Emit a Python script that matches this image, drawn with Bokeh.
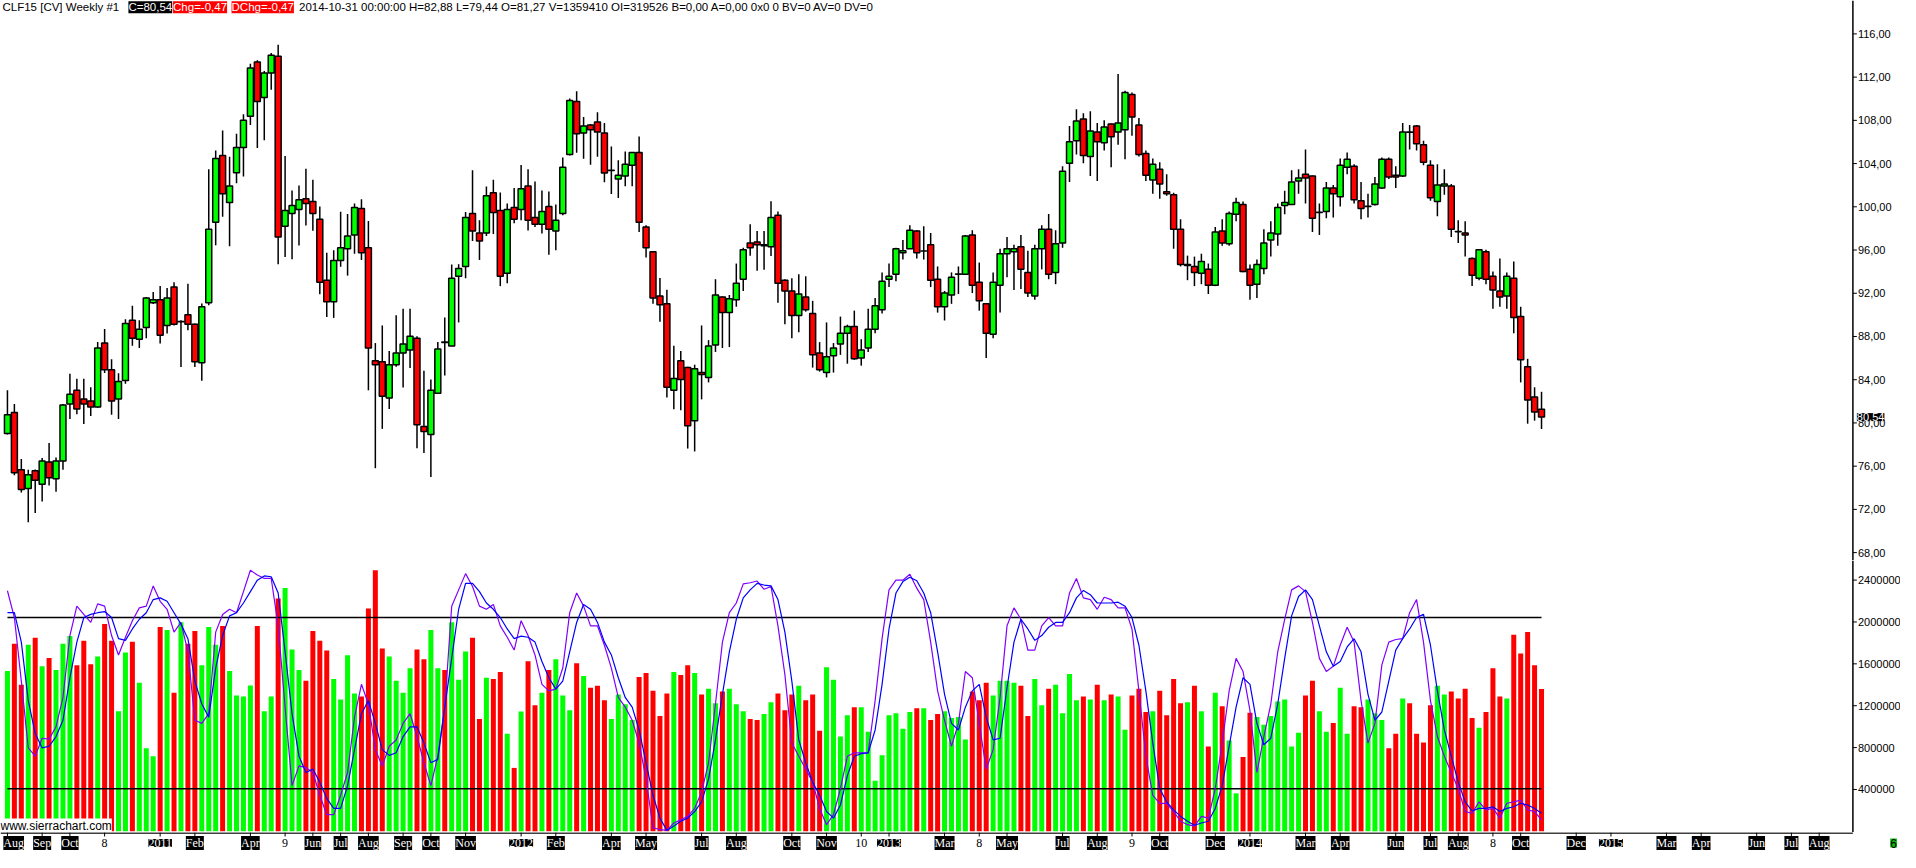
from datetime import date
from bokeh.plotting import figure
from bokeh.layouts import column
from bokeh.models import Range1d, Label, LabelSet, ColumnDataSource, Span
from bokeh.core.properties import value
from bokeh.embed import file_html
from bokeh.resources import INLINE

# ---------------- data (weekly CLF15, one bar per week starting Mon 2010-08-02) ----------------
opens = [79.02, 80.96, 75.66, 73.93, 75.57, 74.33, 76.39, 74.84, 76.48, 81.75,
         83.02, 82.21, 82.02, 81.48, 87.39, 84.93, 82.21, 83.93, 89.51, 87.75,
         88.84, 91.12, 91.39, 89.02, 92.57, 89.36, 90.02, 89.12, 85.57, 91.12,
         98.57, 104.75, 100.39, 103.15, 105.48, 108.39, 113.39, 110.12, 112.39, 113.93,
         98.21, 99.39, 99.75, 100.75, 100.48, 98.84, 93.21, 91.21, 95.02, 96.12,
         97.39, 99.84, 96.21, 85.75, 85.66, 82.30, 85.39, 86.48, 86.75, 87.84,
         79.66, 78.93, 82.75, 87.48, 87.12, 93.57, 94.48, 99.39, 97.57, 97.57,
         101.30, 99.66, 93.84, 99.93, 99.75, 101.93, 99.02, 98.39, 100.02, 97.75,
         99.39, 104.84, 109.75, 106.84, 107.57, 107.84, 106.84, 103.36, 102.57, 102.84,
         103.84, 105.02, 98.12, 95.84, 91.75, 91.02, 83.02, 85.75, 85.12, 80.21,
         84.66, 84.21, 87.21, 91.66, 90.21, 91.39, 93.30, 96.66, 96.75, 96.39,
         96.30, 99.21, 93.21, 92.21, 89.93, 91.66, 90.12, 86.48, 84.66, 86.21,
         87.30, 88.30, 88.93, 86.02, 86.93, 88.66, 90.48, 93.30, 93.75, 95.75,
         96.12, 97.75, 95.90, 96.48, 93.30, 90.75, 91.84, 93.75, 93.75, 97.39,
         93.02, 91.02, 88.21, 92.75, 95.66, 95.84, 96.30, 93.93, 91.75, 96.12,
         97.93, 93.93, 96.66, 104.02, 106.12, 108.12, 104.66, 106.93, 105.93, 107.66,
         106.93, 107.12, 110.39, 107.57, 104.93, 102.48, 103.48, 101.39, 101.12, 97.93,
         94.57, 94.48, 93.84, 94.21, 92.75, 97.75, 96.57, 99.30, 100.21, 94.21,
         92.84, 94.30, 96.93, 97.48, 100.12, 100.21, 102.39, 103.02, 102.84, 99.48,
         99.57, 101.75, 100.93, 103.66, 103.75, 100.57, 100.02, 100.21, 101.75, 104.39,
         102.93, 102.84, 106.93, 107.48, 105.75, 103.84, 100.48, 101.93, 101.93, 97.72,
         97.57, 95.21, 93.39, 95.84, 93.57, 92.21, 91.75, 93.39, 89.84, 85.21,
         82.39, 81.27]
highs = [83.02, 81.75, 76.66, 75.66, 75.70, 76.75, 78.15, 76.81, 81.75, 84.54,
         84.08, 84.08, 83.30, 87.48, 88.69, 85.90, 84.60, 89.60, 90.84, 89.51,
         91.66, 92.12, 92.66, 92.48, 93.02, 89.50, 92.87, 89.20, 91.05, 103.48,
         105.21, 107.05, 104.63, 106.75, 108.57, 113.24, 113.57, 112.57, 114.24, 114.99,
         104.69, 101.51, 101.96, 103.51, 102.51, 100.02, 95.75, 95.99, 99.54, 99.33,
         100.30, 100.69, 98.69, 87.39, 89.02, 86.66, 89.96, 90.57, 90.57, 88.02,
         84.84, 84.02, 87.48, 89.75, 94.66, 94.69, 99.51, 103.39, 98.75, 101.87,
         102.51, 101.33, 100.30, 101.75, 103.87, 103.48, 102.33, 101.51, 101.42, 100.21,
         104.57, 110.02, 110.69, 108.30, 107.66, 108.75, 107.75, 105.57, 104.30, 105.12,
         105.02, 106.51, 98.30, 95.90, 93.42, 92.33, 87.15, 86.66, 85.20, 85.39,
         89.02, 87.66, 93.30, 91.70, 91.84, 94.75, 96.21, 98.39, 97.75, 97.75,
         100.51, 99.57, 93.30, 93.39, 93.75, 93.57, 91.30, 87.48, 89.30, 87.39,
         89.84, 89.09, 90.39, 87.75, 90.57, 91.57, 93.93, 94.75, 96.21, 96.93,
         98.30, 97.84, 98.21, 97.57, 94.48, 92.21, 93.93, 94.48, 97.39, 97.84,
         94.84, 91.10, 93.93, 96.12, 97.21, 96.48, 97.39, 95.93, 96.48, 98.30,
         99.33, 97.84, 103.75, 107.48, 109.02, 108.66, 108.84, 107.75, 108.02, 107.70,
         112.30, 110.75, 110.57, 108.21, 105.21, 104.48, 104.12, 103.02, 101.30, 98.84,
         95.48, 95.39, 95.66, 94.75, 98.12, 98.84, 99.57, 100.84, 100.48, 94.66,
         95.12, 97.93, 98.66, 100.30, 101.48, 103.39, 103.48, 105.30, 102.90, 100.30,
         102.30, 102.02, 104.48, 105.02, 103.93, 102.30, 101.21, 102.75, 104.57, 104.57,
         103.75, 107.75, 107.57, 107.57, 106.12, 104.30, 103.93, 103.48, 102.12, 98.75,
         98.66, 95.30, 96.02, 96.02, 94.02, 95.21, 93.93, 94.93, 90.75, 85.93,
         83.30, 82.88]
lows = [78.93, 75.15, 73.57, 70.81, 71.66, 72.72, 74.21, 73.63, 75.66, 80.36,
        80.81, 79.90, 80.63, 81.40, 84.63, 80.75, 80.36, 83.63, 87.15, 86.93,
        87.84, 91.00, 87.36, 88.27, 89.02, 85.18, 88.57, 85.18, 83.90, 90.90,
        96.45, 99.08, 96.36, 102.18, 102.81, 107.57, 105.45, 106.15, 110.84, 94.69,
        95.36, 95.15, 96.42, 98.27, 97.78, 91.90, 89.81, 89.72, 94.45, 93.63,
        95.66, 95.08, 83.02, 75.81, 79.45, 81.30, 85.21, 83.27, 85.08, 77.66,
        77.21, 74.99, 82.70, 84.39, 87.10, 89.30, 93.39, 96.84, 95.08, 97.30,
        97.48, 92.66, 92.93, 98.48, 98.75, 97.81, 98.12, 97.54, 95.57, 95.99,
        99.21, 104.75, 104.99, 104.45, 103.90, 104.63, 102.27, 101.18, 100.81, 101.90,
        101.90, 97.66, 95.30, 91.02, 89.36, 82.36, 81.27, 81.18, 77.63, 77.36,
        82.18, 83.75, 86.57, 86.93, 87.02, 90.75, 92.21, 95.48, 94.09, 94.18,
        95.45, 91.12, 89.12, 87.84, 88.39, 90.30, 85.12, 84.75, 84.21, 84.66,
        86.30, 85.48, 85.84, 85.30, 86.57, 88.30, 90.12, 92.57, 93.12, 95.12,
        96.10, 95.21, 95.12, 92.57, 90.21, 89.48, 91.02, 91.93, 93.70, 92.02,
        90.39, 86.02, 87.84, 90.21, 93.48, 92.30, 92.39, 91.66, 91.39, 94.21,
        93.30, 92.84, 96.21, 102.30, 104.84, 104.02, 102.84, 102.39, 105.21, 103.66,
        105.75, 104.39, 106.57, 104.66, 102.39, 101.21, 100.75, 101.02, 96.12, 94.48,
        93.21, 92.66, 92.84, 91.93, 92.66, 96.39, 96.39, 98.66, 93.95, 91.39,
        91.57, 93.75, 95.39, 96.39, 99.30, 100.20, 101.21, 100.30, 97.66, 97.39,
        98.93, 99.02, 100.02, 103.02, 100.30, 98.84, 99.02, 100.12, 101.66, 102.57,
        101.75, 102.75, 105.30, 105.21, 103.84, 100.57, 99.12, 101.12, 97.21, 96.66,
        95.39, 92.66, 93.21, 92.84, 90.57, 90.75, 90.57, 88.30, 83.75, 79.93,
        80.21, 79.44]
closes = [80.75, 75.39, 73.84, 75.21, 74.69, 76.48, 74.93, 76.48, 81.66, 82.66,
          81.30, 81.75, 81.48, 86.93, 84.93, 82.02, 83.84, 89.21, 87.84, 88.66,
          91.57, 91.39, 88.11, 91.57, 89.12, 89.39, 89.12, 85.66, 90.75, 97.93,
          104.48, 101.21, 101.93, 105.48, 108.02, 112.84, 109.75, 112.39, 114.02, 97.21,
          99.66, 100.12, 100.66, 100.30, 99.39, 93.02, 91.21, 95.02, 96.21, 97.30,
          99.93, 95.75, 86.93, 85.39, 82.48, 85.39, 86.48, 87.30, 88.02, 79.84,
          79.21, 83.02, 86.84, 87.45, 93.39, 94.30, 99.02, 97.75, 96.84, 101.02,
          99.48, 93.57, 99.75, 98.84, 101.66, 98.75, 98.39, 99.57, 97.93, 98.75,
          103.66, 109.84, 106.75, 107.48, 107.12, 106.93, 103.12, 103.38, 102.93, 103.93,
          105.02, 98.57, 96.21, 91.57, 90.93, 83.30, 84.12, 84.02, 79.75, 85.02,
          84.48, 87.12, 91.84, 90.21, 91.48, 92.93, 96.02, 96.21, 96.48, 96.48,
          99.02, 92.93, 92.21, 89.93, 91.93, 90.48, 86.30, 84.93, 86.12, 86.93,
          88.30, 88.93, 85.93, 86.75, 88.66, 90.84, 93.12, 93.57, 96.12, 95.93,
          97.84, 95.75, 95.92, 93.21, 90.75, 92.02, 93.48, 93.77, 97.30, 92.75,
          91.30, 88.30, 93.02, 95.66, 96.12, 96.12, 94.21, 92.02, 96.12, 97.93,
          93.75, 96.57, 103.30, 106.02, 107.93, 104.75, 107.02, 106.02, 107.39, 106.48,
          107.75, 110.57, 108.30, 104.84, 102.93, 103.93, 102.12, 101.21, 97.93, 94.66,
          94.66, 93.93, 94.93, 92.75, 97.66, 96.66, 99.39, 100.39, 94.02, 92.75,
          94.66, 96.66, 97.57, 99.93, 100.39, 102.30, 102.66, 102.66, 98.93, 99.50,
          101.75, 101.21, 103.84, 104.39, 100.66, 99.84, 100.04, 102.12, 104.39, 102.75,
          102.75, 106.93, 106.90, 105.84, 104.12, 100.84, 102.02, 102.12, 97.93, 97.70,
          97.39, 93.66, 96.02, 93.30, 92.30, 91.66, 93.57, 89.75, 85.84, 82.12,
          81.01, 80.54]
volumes = [1531000, 1793000, 1400000, 1783000, 1849000, 1578000, 1656000, 1540000, 1793000, 1867000,
           1587000, 1821000, 1596000, 1671000, 1980000, 1821000, 1148000, 1709000, 1811000, 1419000,
           793000, 718000, 1952000, 1924000, 1325000, 1998000, 1793000, 1914000, 1587000, 1952000,
           1783000, 1961000, 1531000, 1297000, 1288000, 1394000, 1961000, 1148000, 1288000, 2223000,
           2325000, 1737000, 1540000, 1438000, 1914000, 1821000, 1727000, 1456000, 1260000, 1681000,
           1316000, 1288000, 2129000, 2494000, 1746000, 1671000, 1438000, 1325000, 1559000, 1737000,
           1643000, 1924000, 1559000, 1540000, 1998000, 1447000, 1718000, 1849000, 1073000, 1466000,
           1456000, 1522000, 933000, 606000, 1145000, 1624000, 1204000, 1325000, 1540000, 1643000,
           1297000, 1157000, 1606000, 1484000, 1372000, 1391000, 1251000, 1073000, 1307000, 1213000,
           1064000, 1475000, 1512000, 1344000, 1101000, 1316000, 1522000, 1494000, 1587000, 1512000,
           1307000, 1363000, 1223000, 1335000, 1363000, 1213000, 1148000, 1073000, 1064000, 1120000,
           1232000, 1316000, 1157000, 1307000, 1391000, 1251000, 1307000, 961000, 1568000, 1447000,
           905000, 1110000, 1185000, 1185000, 952000, 484000, 727000, 1110000, 1129000, 980000,
           1139000, 1176000, 1176000, 1064000, 1120000, 1148000, 1082000, 1092000, 877000, 1335000,
           1251000, 1419000, 1297000, 1438000, 1438000, 1419000, 1391000, 1101000, 1456000, 1204000,
           1363000, 1400000, 1129000, 1503000, 1251000, 1288000, 1260000, 1400000, 1251000, 1307000,
           1288000, 970000, 1297000, 1363000, 1139000, 1148000, 1344000, 1110000, 1456000, 1223000,
           1232000, 1391000, 1148000, 811000, 1325000, 1195000, 868000, 363000, 709000, 1132000,
           1092000, 1017000, 1101000, 1241000, 1260000, 811000, 942000, 1297000, 1438000, 1148000,
           952000, 1036000, 1372000, 933000, 1195000, 1185000, 1260000, 1129000, 1064000, 793000,
           933000, 1269000, 1223000, 933000, 849000, 1204000, 1391000, 1307000, 1335000, 1269000,
           1363000, 1082000, 989000, 1139000, 1559000, 1288000, 1269000, 1877000, 1699000, 1905000,
           1587000, 1359410]
stoch_k = [89.4, 80.0, 57.7, 34.3, 31.4, 37.7, 37.4, 41.7, 52.0, 73.7,
           84.0, 81.1, 78.3, 84.8, 84.0, 73.7, 66.9, 73.1, 78.9, 83.4,
           84.0, 91.1, 85.7, 82.9, 74.9, 78.3, 68.0, 44.0, 42.9, 46.3,
           74.9, 81.1, 82.9, 81.7, 89.1, 96.6, 94.9, 93.7, 93.7, 77.1,
           48.6, 21.1, 28.0, 27.4, 25.7, 17.7, 10.9, 10.9, 17.7, 25.7,
           45.1, 56.6, 49.7, 33.7, 28.0, 34.9, 37.1, 42.9, 46.3, 38.3,
           29.1, 21.1, 31.4, 48.6, 84.0, 89.7, 95.4, 90.9, 84.0, 82.9,
           84.6, 77.1, 73.1, 68.6, 78.9, 73.7, 66.9, 56.6, 54.3, 54.9,
           62.3, 81.7, 88.6, 84.0, 77.1, 77.1, 70.3, 62.3, 52.0, 48.6,
           44.0, 36.0, 23.4, 6.3, 5.7, 5.4, 8.0, 9.1, 10.3, 13.1,
           18.9, 29.1, 49.7, 71.4, 81.7, 85.1, 91.8, 92.2, 92.8, 89.9,
           90.9, 77.1, 60.0, 36.0, 31.4, 26.9, 22.3, 13.1, 7.4, 10.9,
           20.0, 31.4, 32.6, 32.6, 32.6, 50.9, 72.6, 89.7, 93.1, 93.1,
           95.2, 90.3, 86.3, 71.4, 54.3, 44.0, 34.9, 42.9, 61.1, 58.9,
           42.9, 26.9, 33.7, 52.0, 77.1, 83.4, 79.4, 68.6, 68.6, 77.1,
           80.0, 77.1, 77.1, 88.6, 93.7, 86.9, 86.3, 82.9, 87.1, 86.3,
           83.4, 83.4, 76.0, 54.3, 31.4, 17.7, 14.9, 14.9, 12.0, 8.6,
           7.4, 6.9, 10.3, 9.7, 20.0, 36.0, 54.3, 65.7, 61.1, 47.4,
           25.7, 38.3, 49.7, 68.0, 79.4, 89.7, 91.1, 89.1, 78.3, 65.7,
           61.1, 62.9, 70.3, 76.6, 71.4, 50.9, 36.0, 42.9, 63.4, 71.4,
           72.3, 72.6, 81.7, 86.3, 71.4, 50.9, 38.3, 31.4, 25.7, 20.0,
           12.0, 11.4, 15.4, 12.6, 13.1, 9.7, 14.9, 15.4, 16.0, 12.6,
           12.0, 9.1]
stoch_d = [81.7, 81.7, 71.4, 50.9, 39.4, 34.3, 34.9, 38.3, 44.0, 58.9,
           71.4, 80.0, 81.1, 81.7, 82.1, 80.0, 72.6, 72.0, 76.0, 79.4,
           81.7, 86.3, 86.9, 85.7, 81.7, 77.7, 72.6, 57.7, 49.7, 45.1,
           62.3, 73.7, 80.6, 81.7, 85.1, 89.1, 93.1, 94.6, 94.3, 88.6,
           68.0, 46.3, 31.4, 25.7, 26.9, 22.3, 16.6, 13.1, 13.1, 21.1,
           33.7, 46.3, 50.9, 42.9, 33.7, 31.7, 32.6, 38.3, 41.7, 41.7,
           36.0, 29.1, 30.3, 48.6, 65.7, 82.9, 92.0, 92.0, 89.1, 85.1,
           82.9, 80.0, 76.0, 72.6, 73.5, 73.1, 71.4, 64.6, 58.9, 54.9,
           57.7, 68.0, 78.3, 84.6, 82.9, 78.3, 71.4, 66.9, 58.9, 52.0,
           48.6, 40.6, 29.1, 17.7, 9.7, 5.4, 6.9, 8.6, 9.7, 12.0,
           15.4, 23.4, 37.1, 53.1, 68.0, 79.4, 86.9, 89.7, 92.0, 91.4,
           91.1, 86.3, 74.9, 57.7, 37.1, 29.1, 22.3, 17.7, 12.0, 9.7,
           14.3, 24.6, 31.4, 32.3, 32.6, 40.6, 56.6, 76.0, 88.6, 92.6,
           94.1, 92.9, 88.6, 81.7, 68.0, 53.1, 42.9, 40.6, 48.6, 54.3,
           56.6, 45.1, 37.1, 37.7, 55.4, 71.4, 79.4, 76.0, 72.0, 73.7,
           76.6, 78.3, 78.3, 81.7, 86.9, 89.5, 88.0, 85.1, 85.1, 85.1,
           85.4, 84.0, 80.0, 70.3, 54.3, 36.0, 20.0, 15.4, 12.6, 10.3,
           8.6, 7.2, 8.0, 8.6, 13.1, 21.1, 34.9, 48.6, 58.9, 56.6,
           42.9, 35.4, 37.7, 49.7, 65.7, 80.6, 87.4, 89.7, 86.3, 77.1,
           68.0, 62.9, 64.6, 69.7, 72.6, 68.0, 53.1, 44.0, 46.9, 57.7,
           68.6, 72.6, 76.0, 80.0, 81.1, 70.3, 54.3, 40.6, 31.4, 22.3,
           15.4, 12.2, 13.1, 13.1, 13.7, 12.0, 13.1, 13.7, 14.9, 14.3,
           13.1, 11.4]
stoch_levels = [80, 20]
price_ticks = [68, 72, 76, 80, 84, 88, 92, 96, 100, 104, 108, 112, 116]
volume_ticks = [400000, 800000, 1200000, 1600000, 2000000, 2400000]
first_bar = date(2010, 8, 2)
date_labels = [("Aug", "2010-08-02"), ("Sep", "2010-09-06"), ("Oct", "2010-10-04"), ("8", "2010-11-08"),
               ("2011", "2011-01-03"), ("Feb", "2011-02-07"), ("Apr", "2011-04-04"), ("9", "2011-05-09"),
               ("Jun", "2011-06-06"), ("Jul", "2011-07-04"), ("Aug", "2011-08-01"), ("Sep", "2011-09-05"),
               ("Oct", "2011-10-03"), ("Nov", "2011-11-07"), ("2012", "2012-01-02"), ("Feb", "2012-02-06"),
               ("Apr", "2012-04-02"), ("May", "2012-05-07"), ("Jul", "2012-07-02"), ("Aug", "2012-08-06"),
               ("Oct", "2012-10-01"), ("Nov", "2012-11-05"), ("10", "2012-12-10"), ("2013", "2013-01-07"),
               ("Mar", "2013-03-04"), ("8", "2013-04-08"), ("May", "2013-05-06"), ("Jul", "2013-07-01"),
               ("Aug", "2013-08-05"), ("9", "2013-09-09"), ("Oct", "2013-10-07"), ("Dec", "2013-12-02"),
               ("2014", "2014-01-06"), ("Mar", "2014-03-03"), ("Apr", "2014-04-07"), ("Jun", "2014-06-02"),
               ("Jul", "2014-07-07"), ("Aug", "2014-08-04"), ("8", "2014-09-08"), ("Oct", "2014-10-06"),
               ("Dec", "2014-12-01"), ("2015", "2015-01-05"), ("Mar", "2015-03-02"), ("Apr", "2015-04-06"),
               ("Jun", "2015-06-01"), ("Jul", "2015-07-06"), ("Aug", "2015-08-03")]

# ---------------- layout constants ----------------
FONT = "Liberation Sans"
GREEN, RED = "#00ff00", "#ff0000"
W = 1900                      # full page width available (px)
PX = 7.0                      # reference pixels per bar
X_LEFT = -1.0
X_END = X_LEFT + 1916 / PX    # right edge of the whole chart (bar units)
X_AX = X_LEFT + 1868 / PX     # position of the price / volume scale line
TICK = 4 / PX
P_TOP, P_BOT = 119.09, 67.27
V_TOP, V_BOT = 2587000, -11000
S_TOP, S_BOT = 100.0, 4.66

def ref_x(px):
    return X_LEFT + px / PX

def fmt(v):
    return f"{v:.2f}".replace(".", ",")

n = len(closes)
xs = list(range(n))
colors = [GREEN if c >= o else RED for o, c in zip(opens, closes)]

xr = Range1d(X_LEFT, X_END)

def base_fig(h, yr):
    f = figure(frame_width=W, frame_height=h, x_range=xr, y_range=yr,
               toolbar_location=None, output_backend="svg", min_border=0,
               x_axis_location=None, y_axis_location=None)
    f.grid.visible = False
    f.outline_line_color = None
    f.background_fill_color = "white"
    f.border_fill_color = "white"
    return f

def draw_scale(f, ticks, labels):
    f.add_layout(Span(location=X_AX, dimension="height", line_color="black", line_width=1.5))
    f.segment(x0=[X_AX] * len(ticks), y0=ticks, x1=[X_AX + TICK] * len(ticks), y1=ticks,
              line_color="black", line_width=1)
    f.text(x=[X_AX + TICK + 0.15] * len(ticks), y=ticks, text=labels,
           text_baseline="middle", text_align="left", text_color="black",
           text_font=value(FONT), text_font_size=value("11px"))

# ---------------- price panel ----------------
p = base_fig(560, Range1d(P_BOT, P_TOP))
draw_scale(p, price_ticks, [fmt(t) for t in price_ticks])

csrc = ColumnDataSource(dict(
    x=xs, o=opens, h=highs, l=lows, c=closes,
    top=[max(o, c) for o, c in zip(opens, closes)],
    bottom=[min(o, c) for o, c in zip(opens, closes)],
    color=colors))
p.segment(x0="x", y0="l", x1="x", y1="h", source=csrc, line_color="black", line_width=1.5)
p.vbar(x="x", width=0.86, top="top", bottom="bottom", source=csrc,
       fill_color="color", line_color="black", line_width=1.5)

chg = closes[-1] - closes[-2]
header = [
    (2, "CLF15 [CV]  Weekly  #1", None, "black"),
    (129, "C=" + fmt(closes[-1]), "black", "white"),
    (174, "Chg=" + fmt(chg), RED, "white"),
    (233, "DChg=" + fmt(chg), RED, "white"),
    (301, "2014-10-31 00:00:00 H=" + fmt(highs[-1]) + " L=" + fmt(lows[-1]) + " O=" + fmt(opens[-1])
          + " V=" + str(volumes[-1]) + " OI=319526 B=0,00 A=0,00 0x0 0 BV=0 AV=0 DV=0", None, "black"),
]
for px, txt, bg, fg in header:
    p.add_layout(Label(x=ref_x(px), y=P_TOP - 0.08, text=txt, text_baseline="top",
                       text_font=FONT, text_font_size="11.5px", text_color=fg,
                       background_fill_color=bg))

# last-price marker on the price scale
p.add_layout(Label(x=X_AX + TICK, y=closes[-1], text=fmt(closes[-1]), text_baseline="middle",
                   text_font=FONT, text_font_size="11px", text_color="white",
                   background_fill_color="black"))

# ---------------- volume / stochastic panel ----------------
v = base_fig(272, Range1d(V_BOT, V_TOP))
v.extra_y_ranges = {"stoch": Range1d(S_BOT, S_TOP)}
draw_scale(v, volume_ticks, [str(t) for t in volume_ticks])

vsrc = ColumnDataSource(dict(x=xs, vol=volumes, color=colors, k=stoch_k, d=stoch_d))
v.vbar(x="x", width=0.72, top="vol", bottom=0, source=vsrc, fill_color="color", line_color=None)
for lvl in stoch_levels:
    v.line([xs[0], xs[-1]], [lvl, lvl], y_range_name="stoch", line_color="black", line_width=1.5)
v.line("x", "k", source=vsrc, y_range_name="stoch", line_color="#8000ff", line_width=1.2)
v.line("x", "d", source=vsrc, y_range_name="stoch", line_color="#0000ff", line_width=1.2)

v.add_layout(Label(x=X_LEFT, y=V_BOT, text="www.sierrachart.com", text_baseline="bottom",
                   text_font=FONT, text_font_size="12px", text_color="black",
                   background_fill_color="white"))

# ---------------- date strip ----------------
s = base_fig(20, Range1d(0, 20))
s.segment(x0=[X_LEFT], y0=[19.4], x1=[X_AX], y1=[19.4], line_color="black", line_width=1.5)

lx = [(date.fromisoformat(d) - first_bar).days / 7 for _, d in date_labels]
lt = [t for t, _ in date_labels]
lx_lab = [max(a, X_LEFT + 1.9) for a in lx]   # keep the first label fully inside the strip
boxed = [t[0].isalpha() or len(t) == 4 for t in lt]
s.segment(x0=lx, y0=[20] * len(lx), x1=lx, y1=[16] * len(lx), line_color="black", line_width=1)

bsrc = ColumnDataSource(dict(x=[a for a, b in zip(lx_lab, boxed) if b], t=[a for a, b in zip(lt, boxed) if b],
                             y=[9.5] * sum(boxed)))
nsrc = ColumnDataSource(dict(x=[a for a, b in zip(lx_lab, boxed) if not b], t=[a for a, b in zip(lt, boxed) if not b],
                             y=[9.5] * (len(lt) - sum(boxed))))
s.add_layout(LabelSet(x="x", y="y", text="t", source=bsrc, text_align="center", text_baseline="middle",
                      text_font=FONT, text_font_size="12px", text_color="white",
                      background_fill_color="black"))
s.add_layout(LabelSet(x="x", y="y", text="t", source=nsrc, text_align="center", text_baseline="middle",
                      text_font=FONT, text_font_size="12px", text_color="black"))
s.add_layout(Label(x=ref_x(1909), y=9.5, text="6", text_align="center", text_baseline="middle",
                   text_font=FONT, text_font_size="12px", text_color="black",
                   background_fill_color="#00c000"))

layout = column(p, v, s, spacing=0)
open("out.html", "w").write(file_html(layout, INLINE))
